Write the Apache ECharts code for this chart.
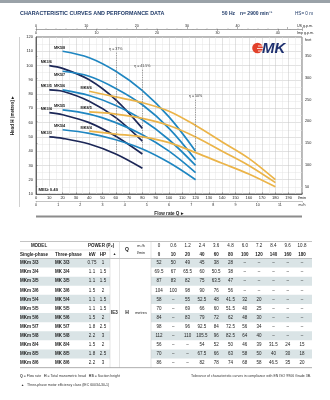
<!DOCTYPE html>
<html>
<head>
<meta charset="utf-8">
<script src="https://cdn.jsdelivr.net/npm/echarts@6/dist/echarts.min.js"></script>
<style>
html,body{margin:0;padding:0;background:#fff;}
#chart{width:330px;height:400px;}
</style>
</head>
<body>
<div id="chart"></div>
<script>
// ---- performance data (flow in l/min, head in metres) ----
const flowLmin = [0, 10, 20, 40, 60, 80, 100, 120, 140, 160, 180];
const flowM3h = ['0', '0.6', '1.2', '2.4', '3.6', '4.8', '6.0', '7.2', '8.4', '9.6', '10.8'];

const modelsSingle = ['MKm 3/3', 'MKm 3/4', 'MKm 3/5', 'MKm 3/6', 'MKm 5/4', 'MKm 5/5',
  'MKm 5/6', 'MKm 5/7', 'MKm 5/8', 'MKm 8/4', 'MKm 8/5', 'MKm 8/6'];
const modelsThree = ['MK 3/3', 'MK 3/4', 'MK 3/5', 'MK 3/6', 'MK 5/4', 'MK 5/5',
  'MK 5/6', 'MK 5/7', 'MK 5/8', 'MK 8/4', 'MK 8/5', 'MK 8/6'];
const powerKW = ['0.75', '1.1', '1.1', '1.5', '1.1', '1.1', '1.5', '1.8', '2.2', '1.5', '1.8', '2.2'];
const powerHP = ['1', '1.5', '1.5', '2', '1.5', '1.5', '2', '2.5', '3', '2', '2.5', '3'];
const motorClass = 'IE3';

const headMK33 = [52, 50, 49, 45, 38, 28, null, null, null, null, null];
const headMK34 = [69.5, 67, 65.5, 60, 50.5, 38, null, null, null, null, null];
const headMK35 = [87, 83, 82, 75, 63.5, 47, null, null, null, null, null];
const headMK36 = [104, 100, 98, 90, 76, 56, null, null, null, null, null];
const headMK54 = [58, null, 55, 52.5, 48, 41.5, 32, 20, null, null, null];
const headMK55 = [70, null, 69, 66, 60, 51.5, 40, 25, null, null, null];
const headMK56 = [84, null, 83, 79, 72, 62, 48, 30, null, null, null];
const headMK57 = [98, null, 96, 92.5, 84, 72.5, 56, 34, null, null, null];
const headMK58 = [112, null, 110, 105.5, 96, 82.5, 64, 40, null, null, null];
const headMK84 = [56, null, null, 54, 52, 50, 46, 39, 31.5, 24, 15];
const headMK85 = [70, null, null, 67.5, 66, 63, 58, 50, 40, 30, 18];
const headMK86 = [86, null, null, 82, 78, 74, 68, 58, 46.5, 35, 20];
const headRows = [headMK33, headMK34, headMK35, headMK36, headMK54, headMK55,
  headMK56, headMK57, headMK58, headMK84, headMK85, headMK86];

// best-efficiency verticals per family (flow, text, upper end in metres)
const effFlow = [60, 80, 120];
const effText = ['η = 37%', 'η = 41.5%', 'η = 50%'];
const effTop = [109, 97, 76];

const feetTicks = [50, 100, 150, 200, 250, 300, 350];
const meiText = 'MEI≥ 0.40';

// ---- unit conversions for the secondary scales ----
const FT_PER_M = 3.28084;
const USGPM_PER_LMIN = 0.264172;
const IMPGPM_PER_LMIN = 0.219969;

const FONT = '"Liberation Sans", Arial, sans-serif';
const familyColor = { '3': '#1c2757', '5': '#1f86c1', '8': '#ebb449' };
const TXT = '#222';

// ---- curves ----
const series = [];
modelsThree.forEach((m, r) => {
  const fam = m.split(' ')[1].split('/')[0];
  const name = m.replace(' ', '');
  const heads = headRows[r];
  const pts = [];
  for (let i = 1; i < flowLmin.length; i++) {
    if (heads[i] != null) pts.push([flowLmin[i], heads[i]]);
  }
  const s = {
    type: 'line', name: name, xAxisIndex: 0, yAxisIndex: 0,
    data: pts, smooth: 0.35, showSymbol: false, silent: true,
    lineStyle: { color: familyColor[fam], width: 1.7 },
    z: 3,
    markPoint: {
      symbol: 'circle', symbolSize: 0.1, silent: true,
      itemStyle: { color: 'rgba(0,0,0,0)' },
      label: {
        show: true, formatter: name, position: name === 'MK5/7' ? 'bottom' : 'top',
        distance: 1.5, offset: [-3, 0], fontSize: 3.8, fontWeight: 'bold',
        color: '#1a1a1a', fontFamily: FONT
      },
      data: [{ coord: pts[0] }]
    }
  };
  series.push(s);
});

// dashed efficiency markers, drawn down to the lowest curve of each family
const famBottom = [headMK33, headMK54, headMK84];
series.push({
  type: 'line', xAxisIndex: 0, yAxisIndex: 0, data: [], silent: true,
  markLine: {
    silent: true, symbol: ['none', 'none'], animation: false,
    lineStyle: { type: [1.2, 1.2], color: '#7d7d7d', width: 0.7 },
    label: { show: true, position: 'start', formatter: '{b}', fontSize: 3.6,
      color: '#333', fontFamily: FONT, distance: 1.5 },
    data: effFlow.map((q, i) => [
      { name: effText[i], coord: [q, effTop[i]] },
      { coord: [q, famBottom[i][flowLmin.indexOf(q)]] }
    ])
  }
});

// ---- page graphics: header, frame, logo, MEI tag and the data table ----
const G = [];
function text(x, y, s, size, weight, align, color, extra) {
  G.push(Object.assign({
    type: 'text', x: x, y: y, silent: true, z: 100,
    style: { text: s, fontSize: size, fontWeight: weight || 'normal', fontFamily: FONT,
      fill: color || TXT, align: align || 'left', verticalAlign: 'middle' }
  }, extra || {}));
}
function rect(x, y, w, h, fill, z) {
  G.push({ type: 'rect', silent: true, z: z || 1, shape: { x: x, y: y, width: w, height: h }, style: { fill: fill } });
}
function line(x1, y1, x2, y2, stroke, w, z) {
  G.push({ type: 'line', silent: true, z: z || 2, shape: { x1: x1, y1: y1, x2: x2, y2: y2 },
    style: { stroke: stroke, lineWidth: w } });
}

// header band and titles
rect(0, 0, 330, 3, '#9aa2a8');
text(20, 14, 'CHARACTERISTIC CURVES AND PERFORMANCE DATA', 5.4, 'bold', 'left', '#1f3a68');
text(222, 14, '50 Hz', 5, 'bold', 'left', '#1f3a68');
text(240, 14, 'n= 2900 min⁻¹', 5, 'bold', 'left', '#1f3a68');
text(313, 14, 'HS= 0 m', 4.6, 'normal', 'right', '#1f3a68');

// scale unit captions
text(297, 25.5, 'US g.p.m.', 3.6, 'normal', 'left', TXT);
text(297, 33, 'Imp g.p.m.', 3.6, 'normal', 'left', TXT);
text(305, 39.5, 'feet', 3.8, 'normal', 'left', TXT);

// side frame and lower rule
line(19.5, 37, 19.5, 207, '#b0b0b0', 0.6);
line(36, 216.5, 302, 216.5, '#8c8c8c', 1.8);

// logo
G.push({ type: 'circle', silent: true, z: 100, shape: { cx: 257.5, cy: 48, r: 5.3 }, style: { fill: '#e2412b' } });
line(258, 46, 263, 46, '#fff', 0.8, 101);
line(257, 48.5, 263, 48.5, '#fff', 0.8, 101);
line(258, 51, 262, 51, '#fff', 0.8, 101);
text(262, 48.5, 'MK', 15, '900', 'left', '#1f3170', { style: { text: 'MK', fontSize: 15, fontWeight: '900',
  fontStyle: 'italic', fontFamily: FONT, fill: '#1f3170', align: 'left', verticalAlign: 'middle' } });

// MEI tag inside plot
rect(37, 186.5, 25, 7, '#fff', 100);
text(38.5, 190.2, meiText, 4.3, 'bold', 'left', '#1a1a1a', { z: 101 });

// ---- table ----
const T_LEFT = 20, T_RIGHT = 312;
const ROW0 = 263, ROW_H = 9.1;
const X_SINGLE = 20, X_THREE = 55, X_KW = 92, X_HP = 103, X_IE = 114.5, X_Q = 127, X_UNIT = 141;
const X_DATA0 = 159, DATA_STEP = 14.3;
const SHADE = '#dae4e6';
const TFS = 4.5;

line(T_LEFT, 241.5, T_RIGHT, 241.5, '#9a9a9a', 0.6);
text(39, 246, 'MODEL', TFS, 'bold', 'center');
text(101, 246, 'POWER (P₂)', TFS, 'bold', 'center');
line(T_LEFT, 250, 110, 250, '#c8c8c8', 0.5);
text(X_SINGLE, 254.3, 'Single-phase', TFS, 'bold', 'left');
text(X_THREE, 254.3, 'Three-phase', TFS, 'bold', 'left');
text(X_KW, 254.3, 'kW', TFS, 'bold', 'center');
text(X_HP, 254.3, 'HP', TFS, 'bold', 'center');
text(X_IE, 254.3, '▲', 3.6, 'bold', 'center');
text(X_Q, 249.5, 'Q', 5, 'bold', 'center');
text(X_UNIT, 246, 'm³/h', 3.8, 'normal', 'center');
text(X_UNIT, 253, 'l/min', 3.8, 'normal', 'center');
flowLmin.forEach((q, j) => {
  const x = X_DATA0 + j * DATA_STEP;
  text(x, 246, flowM3h[j], TFS, 'normal', 'center');
  text(x, 254.3, String(q), TFS, 'bold', 'center');
});
line(T_LEFT, 258.5, T_RIGHT, 258.5, '#9a9a9a', 0.6);

modelsSingle.forEach((m, r) => {
  const yc = ROW0 + r * ROW_H;
  if (r % 2 === 0) {
    rect(T_LEFT, yc - ROW_H / 2, 110 - T_LEFT, ROW_H, SHADE);
    rect(151, yc - ROW_H / 2, T_RIGHT - 151, ROW_H, SHADE);
  }
  text(X_SINGLE, yc, m, TFS, 'bold', 'left', '#1a1a1a');
  text(X_THREE, yc, modelsThree[r], TFS, 'bold', 'left', '#1a1a1a');
  text(X_KW, yc, powerKW[r], TFS, 'normal', 'center');
  text(X_HP, yc, powerHP[r], TFS, 'normal', 'center');
  headRows[r].forEach((h, j) => {
    text(X_DATA0 + j * DATA_STEP, yc, h == null ? '–' : String(h), TFS, 'normal', 'center');
  });
});
const tableBottom = ROW0 + 11 * ROW_H + ROW_H / 2;
const midY = (258.5 + tableBottom) / 2;
text(X_IE, midY, motorClass, TFS, 'bold', 'center');
text(X_Q, midY, 'H', 5, 'bold', 'center');
text(X_UNIT, midY, 'metres', 3.8, 'normal', 'center');
[110, 119.5, 151].forEach(x => line(x, 241.5, x, tableBottom, '#c8c8c8', 0.5));
line(T_LEFT, tableBottom, T_RIGHT, tableBottom, '#9a9a9a', 0.8);

// footnotes
G.push({ type: 'text', x: 20, y: 376, silent: true, z: 100, style: {
  text: '{b|Q} = Flow rate   {b|H} = Total manometric head   {b|HS} = Suction height',
  fontSize: 3.5, fontFamily: FONT, fill: '#333', align: 'left', verticalAlign: 'middle',
  rich: { b: { fontSize: 3.5, fontWeight: 'bold', fontFamily: FONT, fill: '#333' } } } });
text(21, 385, '▲', 3.2, 'bold', 'left', '#333');
text(27, 385, 'Three-phase motor efficiency class (IEC 60034-30-1)', 3.5, 'normal', 'left', '#333');
text(311, 376, 'Tolerance of characteristic curves in compliance with EN ISO 9906 Grade 3B.', 3.5, 'normal', 'right', '#333');

// ---- axes ----
const axisFont = { fontSize: 4, color: TXT, fontFamily: FONT };
const option = {
  animation: false,
  backgroundColor: '#fff',
  grid: { left: 36, right: 28, top: 37, bottom: 206, show: true, borderColor: '#4a4a4a', borderWidth: 0.8,
    backgroundColor: '#fff' },
  xAxis: [
    { // l/min
      type: 'value', position: 'bottom', min: 0, max: 200, interval: 10,
      axisLine: { show: true, lineStyle: { color: '#4a4a4a', width: 0.8 } },
      axisTick: { show: true, inside: true, length: 1.5, lineStyle: { color: '#4a4a4a', width: 0.5 } },
      axisLabel: Object.assign({ margin: 1.5, formatter: v => v === 200 ? 'l/min' : String(v) }, axisFont),
      splitLine: { show: true, lineStyle: { color: '#c4c4c4', width: 0.5 } },
      minorTick: { show: false, splitNumber: 2 },
      minorSplitLine: { show: true, lineStyle: { color: '#e4e4e4', width: 0.5 } }
    },
    { // m3/h
      type: 'value', position: 'bottom', offset: 7, min: 0, max: 12, interval: 1,
      axisLine: { show: true, lineStyle: { color: '#9a9a9a', width: 0.6 } },
      axisTick: { show: true, length: 1.5, lineStyle: { color: '#9a9a9a', width: 0.5 } },
      axisLabel: Object.assign({ margin: 1.5, formatter: v => v === 12 ? 'm³/h' : String(v) }, axisFont, { fontSize: 3.6 }),
      splitLine: { show: false },
      name: 'Flow rate Q ▸', nameLocation: 'middle', nameGap: 10.5,
      nameTextStyle: { fontSize: 4.6, fontWeight: 'bold', color: '#1a1a1a', fontFamily: FONT }
    },
    { // US gpm
      type: 'value', position: 'top', offset: 8, min: 0, max: 200 * USGPM_PER_LMIN, interval: 10,
      axisLine: { show: true, lineStyle: { color: '#6a6a6a', width: 0.6 } },
      axisTick: { show: true, length: 2, lineStyle: { color: '#6a6a6a', width: 0.5 } },
      minorTick: { show: true, splitNumber: 5, length: 1, lineStyle: { color: '#8a8a8a', width: 0.4 } },
      axisLabel: Object.assign({ margin: 1.2, showMaxLabel: false,
        formatter: v => (v % 10 === 0 && v < 50) ? String(v) : '' }, axisFont, { fontSize: 3.6 }),
      splitLine: { show: false }
    },
    { // Imp gpm
      type: 'value', position: 'top', offset: 8, min: 0, max: 200 * IMPGPM_PER_LMIN, interval: 10,
      axisLine: { show: false },
      axisTick: { show: true, inside: true, length: 2, lineStyle: { color: '#6a6a6a', width: 0.5 } },
      minorTick: { show: true, splitNumber: 5, length: 1, lineStyle: { color: '#8a8a8a', width: 0.4 } },
      axisLabel: Object.assign({ inside: true, margin: 1.8, showMaxLabel: false,
        formatter: v => (v % 10 === 0) ? String(v) : '' }, axisFont, { fontSize: 3.6 }),
      splitLine: { show: false }
    }
  ],
  yAxis: [
    { // metres
      type: 'value', position: 'left', min: 10, max: 120, interval: 10,
      axisLine: { show: true, lineStyle: { color: '#4a4a4a', width: 0.8 } },
      axisTick: { show: false },
      axisLabel: Object.assign({ margin: 3 }, axisFont),
      splitLine: { show: true, lineStyle: { color: '#c4c4c4', width: 0.5 } },
      minorTick: { show: false, splitNumber: 2 },
      minorSplitLine: { show: true, lineStyle: { color: '#e4e4e4', width: 0.5 } },
      name: 'Head H (metres) ▸', nameLocation: 'middle', nameGap: 12.5, nameRotate: 90,
      nameTextStyle: { fontSize: 4.6, fontWeight: 'bold', color: '#1a1a1a', fontFamily: FONT }
    },
    { // feet
      type: 'value', position: 'right', min: 10 * FT_PER_M, max: 120 * FT_PER_M,
      axisLine: { show: false },
      axisTick: { show: true, length: 1.5, customValues: feetTicks, lineStyle: { color: '#4a4a4a', width: 0.5 } },
      axisLabel: Object.assign({ margin: 3, customValues: feetTicks }, axisFont, { fontSize: 3.8 }),
      splitLine: { show: false }
    }
  ],
  graphic: { elements: G },
  series: series
};

const chart = echarts.init(document.getElementById('chart'), null, { renderer: 'canvas' });
chart.setOption(option);
</script>
</body>
</html>
